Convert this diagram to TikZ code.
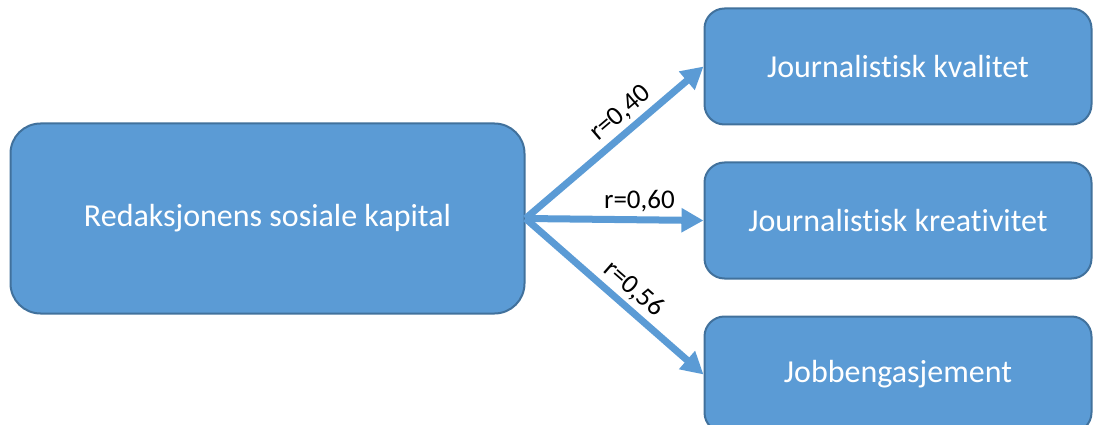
\documentclass[tikz,border=0pt]{standalone}
\usepackage{fontspec}
\setmainfont{Carlito}[Ligatures=NoCommon]
\usepackage{tikz}
\usetikzlibrary{arrows.meta, positioning, calc}
\definecolor{boxfill}{HTML}{5B9BD5}
\definecolor{boxline}{HTML}{41719C}
\tikzstyle{bigbox} = [rectangle, rounded corners=30pt, minimum width=514pt, minimum height=190pt, draw=boxline, line width=2pt, fill=boxfill, text=white, font=\fontsize{32}{38}\selectfont]
\tikzstyle{outbox} = [rectangle, rounded corners=20pt, minimum width=387pt, minimum height=116pt, draw=boxline, line width=2pt, fill=boxfill, text=white, font=\fontsize{32}{38}\selectfont]
\tikzstyle{arrow} = [line width=7pt, draw=boxfill, -{Triangle[length=22pt, width=23pt]}]
\tikzstyle{rlabel} = [font=\fontsize{27}{32}\selectfont, inner sep=4pt]

\begin{document}
\begin{tikzpicture}[x=1pt, y=1pt]
    \useasboundingbox (0,0) rectangle (1093,-425);

    \node[bigbox] (kapital) at (267.5,-218.5) {Redaksjonens sosiale kapital};

    \node[outbox] (kvalitet) at (898,-66.5) {Journalistisk kvalitet};
    \node[outbox, below=36pt of kvalitet] (kreativitet) {Journalistisk kreativitet};
    \node[outbox, below=36pt of kreativitet] (engasjement) {Jobbengasjement};

    \draw[arrow] (kapital.east) -- (kvalitet.west) node[rlabel, pos=0.6, sloped, above] {r=0,40};
    \draw[arrow] (kapital.east) -- (kreativitet.west) node[rlabel, pos=0.64, above] {r=0,60};
    \draw[arrow] (kapital.east) -- (engasjement.west) node[rlabel, pos=0.54, sloped, above] {r=0,56};
\end{tikzpicture}
\end{document}
